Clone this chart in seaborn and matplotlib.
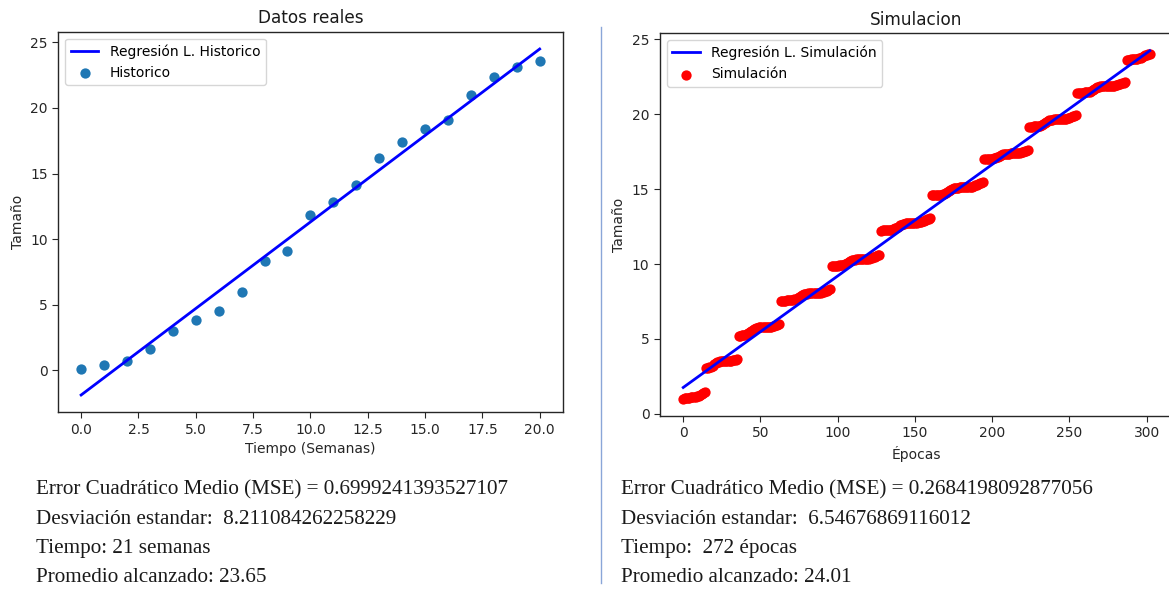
import numpy as np
import pandas as pd
import matplotlib
matplotlib.use("Agg")
import matplotlib.pyplot as plt
from matplotlib.lines import Line2D
import seaborn as sns

# ---------------- data ----------------
semanas = list(range(21))
tamano_historico = [0.1, 0.4, 0.7, 1.6, 3.0, 3.8, 4.5, 6.0, 8.3, 9.1, 11.8,
                    12.85, 14.14, 16.2, 17.4, 18.4, 19.04, 21.02, 22.34, 23.15, 23.55]

sim_semana_1 = [1.02, 1.03, 1.05, 1.06, 1.08, 1.10, 1.12, 1.14, 1.16, 1.18, 1.22, 1.27, 1.32, 1.38, 1.44]
sim_semana_2 = [3.03, 3.06, 3.10, 3.15, 3.22, 3.30, 3.38, 3.44, 3.48, 3.50, 3.51, 3.52, 3.52, 3.53, 3.53,
                3.54, 3.55, 3.57, 3.60, 3.63, 3.67]
sim_semana_3 = [5.20, 5.22, 5.25, 5.28, 5.30, 5.33, 5.38, 5.45, 5.52, 5.60, 5.67, 5.72, 5.75, 5.77, 5.78,
                5.78, 5.79, 5.79, 5.80, 5.80, 5.81, 5.82, 5.84, 5.87, 5.91, 5.95, 6.00]
sim_semana_4 = [7.55, 7.56, 7.57, 7.57, 7.58, 7.58, 7.59, 7.60, 7.62, 7.65, 7.70, 7.76, 7.83, 7.90, 7.96,
                8.00, 8.02, 8.03, 8.04, 8.04, 8.05, 8.05, 8.06, 8.06, 8.07, 8.08, 8.09, 8.11, 8.14, 8.18,
                8.23, 8.29, 8.35]
sim_semana_5 = [9.88, 9.89, 9.89, 9.90, 9.90, 9.91, 9.92, 9.94, 9.97, 10.02, 10.08, 10.14, 10.20, 10.25,
                10.28, 10.30, 10.31, 10.32, 10.32, 10.33, 10.33, 10.34, 10.35, 10.36, 10.37, 10.39,
                10.42, 10.46, 10.50, 10.54, 10.58, 10.62]
sim_semana_6 = [12.24, 12.25, 12.25, 12.26, 12.26, 12.27, 12.28, 12.30, 12.33, 12.38, 12.44, 12.51, 12.58,
                12.64, 12.68, 12.71, 12.72, 12.73, 12.74, 12.74, 12.75, 12.75, 12.76, 12.77, 12.78,
                12.80, 12.83, 12.87, 12.91, 12.95, 12.99, 13.04, 13.08]
sim_semana_7 = [14.60, 14.61, 14.61, 14.62, 14.62, 14.63, 14.64, 14.66, 14.69, 14.74, 14.80, 14.87, 14.94,
                15.00, 15.05, 15.08, 15.10, 15.11, 15.12, 15.12, 15.13, 15.13, 15.14, 15.14, 15.15,
                15.16, 15.18, 15.21, 15.25, 15.29, 15.34, 15.39, 15.44, 15.50]
sim_semana_8 = [17.00, 17.01, 17.02, 17.02, 17.03, 17.04, 17.06, 17.09, 17.13, 17.18, 17.24, 17.29, 17.33,
                17.36, 17.37, 17.38, 17.38, 17.39, 17.39, 17.40, 17.40, 17.41, 17.42, 17.44, 17.47,
                17.50, 17.54, 17.58, 17.62]
sim_semana_9 = [19.17, 19.18, 19.18, 19.19, 19.19, 19.20, 19.22, 19.25, 19.29, 19.35, 19.42, 19.49, 19.55,
                19.60, 19.63, 19.65, 19.66, 19.66, 19.67, 19.67, 19.68, 19.68, 19.69, 19.70, 19.72,
                19.75, 19.78, 19.82, 19.86, 19.90, 19.94]
sim_semana_10 = [21.43, 21.44, 21.44, 21.45, 21.45, 21.46, 21.47, 21.49, 21.52, 21.57, 21.63, 21.69, 21.75,
                 21.80, 21.84, 21.86, 21.87, 21.88, 21.88, 21.89, 21.89, 21.90, 21.90, 21.91, 21.92,
                 21.94, 21.97, 22.00, 22.04, 22.08, 22.11, 22.14]
sim_semana_11 = [23.64, 23.65, 23.66, 23.67, 23.68, 23.69, 23.70, 23.72, 23.75, 23.79, 23.84, 23.89, 23.93,
                 23.96, 24.00, 24.03]

textos_historico = ["Error Cuadrático Medio (MSE) = 0.6999241393527107",
                    "Desviación estandar:  8.211084262258229",
                    "Tiempo: 21 semanas",
                    "Promedio alcanzado: 23.65"]
textos_simulacion = ["Error Cuadrático Medio (MSE) = 0.2684198092877056",
                     "Desviación estandar:  6.54676869116012",
                     "Tiempo:  272 épocas",
                     "Promedio alcanzado: 24.01"]

# ---------------- build frames ----------------
tamano_sim = (sim_semana_1 + sim_semana_2 + sim_semana_3 + sim_semana_4 + sim_semana_5 + sim_semana_6
              + sim_semana_7 + sim_semana_8 + sim_semana_9 + sim_semana_10 + sim_semana_11)
epocas = list(range(len(tamano_sim)))

df_hist = pd.DataFrame({"x": semanas, "y": tamano_historico})
m1, b1 = np.polyfit(df_hist["x"], df_hist["y"], 1)
df_hist["fit"] = m1 * df_hist["x"] + b1

df_sim = pd.DataFrame({"x": epocas, "y": tamano_sim})
m2, b2 = np.polyfit(df_sim["x"], df_sim["y"], 1)
df_sim["fit"] = m2 * df_sim["x"] + b2

# ---------------- figure ----------------
W, H = 1169, 590
fig = plt.figure(figsize=(W / 100, H / 100), dpi=100)

def ax_rect(l, t, r, b):
    return [l / W, 1 - b / H, (r - l) / W, (b - t) / H]

FS = 10.0
TFS = 12.2

def style_axes(ax):
    for side in ["top", "right", "left", "bottom"]:
        ax.spines[side].set_visible(True)
        ax.spines[side].set_color("#262626")
        ax.spines[side].set_linewidth(1.0)
    ax.tick_params(labelsize=FS, colors="#262626", direction="out", length=4,
                   top=False, right=False, left=True, bottom=True)
    ax.grid(False)
    ax.set_facecolor("white")

ax1 = fig.add_axes(ax_rect(58.2, 31.7, 562.6, 412.3))
sns.lineplot(data=df_hist, x="x", y="fit", ax=ax1, color="blue", linewidth=2,
             label="Regresión L. Historico")
sns.scatterplot(data=df_hist, x="x", y="y", ax=ax1, color="#1f77b4", s=55, linewidth=0,
                label="Historico")
ax1.set_title("Datos reales", fontsize=TFS, color="#1a1a1a")
ax1.set_xlabel("Tiempo (Semanas)", fontsize=FS, color="#262626")
ax1.set_ylabel("Tamaño", fontsize=FS, color="#262626")
style_axes(ax1)
ax1.legend(loc="upper left", fontsize=FS)

ax2 = fig.add_axes(ax_rect(659.9, 33.3, 1173.1, 416.0))
sns.lineplot(data=df_sim, x="x", y="fit", ax=ax2, color="blue", linewidth=2,
             label="Regresión L. Simulación")
sns.scatterplot(data=df_sim, x="x", y="y", ax=ax2, color="red", s=55, linewidth=0,
                label="Simulación")
ax2.set_title("Simulacion", fontsize=TFS, color="#1a1a1a")
ax2.set_xlabel("Épocas", fontsize=FS, color="#262626")
ax2.set_ylabel("Tamaño", fontsize=FS, color="#262626")
style_axes(ax2)
ax2.legend(loc="upper left", fontsize=FS)

# separator line
fig.add_artist(Line2D([601 / W, 601 / W], [1 - 27 / H, 1 - 583 / H], color="#8aa6d8", linewidth=1))

# bottom texts
ys = [490, 519, 549, 578]
for txt, y in zip(textos_historico, ys):
    fig.text(36 / W, 1 - y / H, txt, fontsize=15.2, family="Liberation Serif", va="center", ha="left",
             color="#1a1a1a")
for txt, y in zip(textos_simulacion, ys):
    fig.text(621 / W, 1 - y / H, txt, fontsize=15.2, family="Liberation Serif", va="center", ha="left",
             color="#1a1a1a")

fig.savefig("out.png", dpi=100)
